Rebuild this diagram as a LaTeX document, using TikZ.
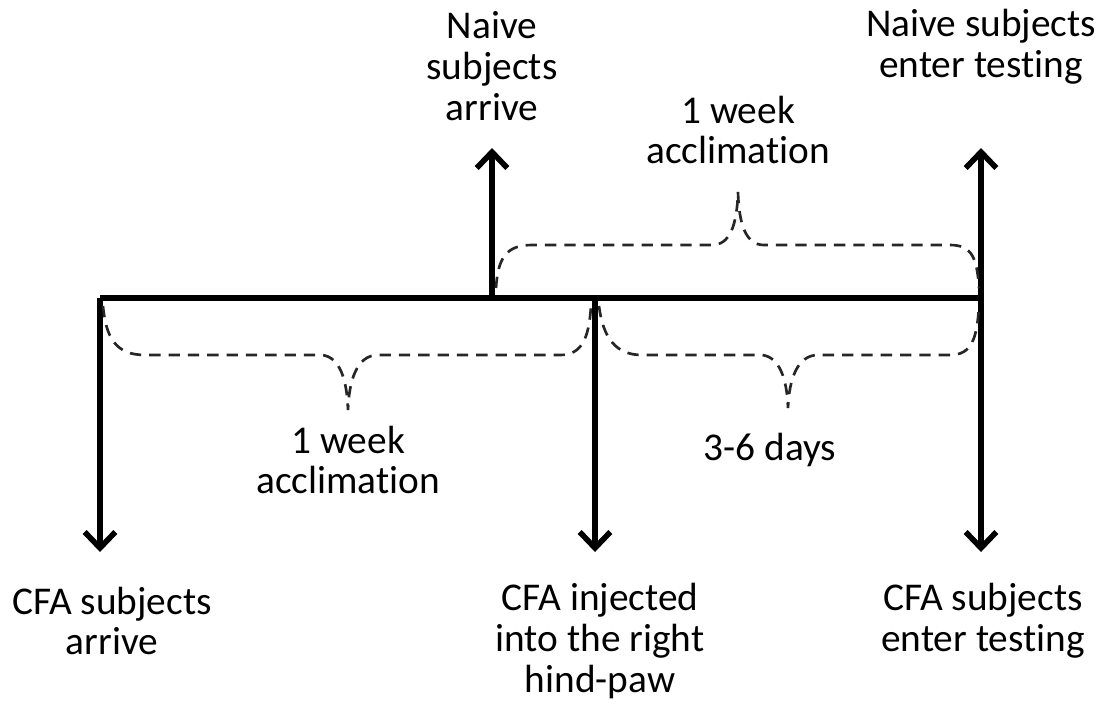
\documentclass[tikz,border=0pt]{standalone}
\usepackage{fontspec}
\setmainfont{Carlito}[Ligatures=NoCommon]
\usetikzlibrary{arrows.meta,positioning,calc}

\tikzset{
  event/.style={line width=4pt,-{Straight Barb[length=12pt,width=23pt,line width=4.2pt]}},
  span/.style={line width=2pt,dash pattern=on 8.5pt off 6pt,black!85},
  lbl/.style={align=center,font=\fontsize{29.5}{30.5}\selectfont,inner sep=0pt}
}

\begin{document}
\begin{tikzpicture}[x=0.75pt,y=-0.75pt]
  \useasboundingbox (0,0) rectangle (1109,719);
  % points on the time line
  \coordinate (cfaArr) at (100,298);
  \coordinate (naiArr) at (492,298);
  \coordinate (inj) at (595,298);
  \coordinate (test) at (981,298);
  \draw[line width=4pt] (cfaArr) -- (test);
  % events
  \coordinate (naiArrTip) at (492,148);
  \coordinate (naiTestTip) at (981,148);
  \coordinate (cfaArrTip) at (100,552);
  \coordinate (injTip) at (595,552);
  \coordinate (cfaTestTip) at (981,552);
  \draw[event] (naiArr) -- (naiArrTip);
  \draw[event] (test) -- (naiTestTip);
  \draw[event] (cfaArr) -- (cfaArrTip);
  \draw[event] (inj) -- (injTip);
  \draw[event] (test) -- (cfaTestTip);
  % labels
  \node[lbl] (naiArrL) at (492,66) {Naive\\subjects\\arrive};
  \node[lbl] (naiTestL) at (981,47) {Naive subjects\\enter testing};
  \node[lbl] (cfaArrL) at (112,621) {CFA subjects\\arrive};
  \node[lbl] (injL) at (600,641) {CFA injected\\into the right\\hind-paw};
  \node[lbl] (cfaTestL) at (983,621) {CFA subjects\\enter testing};
  % braces
  \draw[span] (496,288) .. controls (498,258) and (506,245) .. (532,245) -- (712,245)
    .. controls (730,245) and (737,225) .. (738,192)
    .. controls (739,225) and (746,245) .. (764,245) -- (950,245)
    .. controls (972,245) and (977,258) .. (979,288);
  \node[lbl] (accTop) at (738,130) {1 week\\acclimation};
  \draw[span] (103,306) .. controls (106,338) and (116,355) .. (145,355) -- (322,355)
    .. controls (340,357) and (347,380) .. (348,410)
    .. controls (349,380) and (357,355) .. (378,355) -- (560,355)
    .. controls (582,355) and (589,338) .. (591,306);
  \node[lbl] (accBot) at (348,460) {1 week\\acclimation};
  \draw[span] (599,306) .. controls (603,338) and (616,355) .. (642,355) -- (762,355)
    .. controls (780,357) and (787,380) .. (788,408)
    .. controls (789,380) and (797,355) .. (818,355) -- (950,355)
    .. controls (972,355) and (977,338) .. (979,306);
  \node[lbl] (days) at (770,450) {3-6 days};
\end{tikzpicture}
\end{document}
